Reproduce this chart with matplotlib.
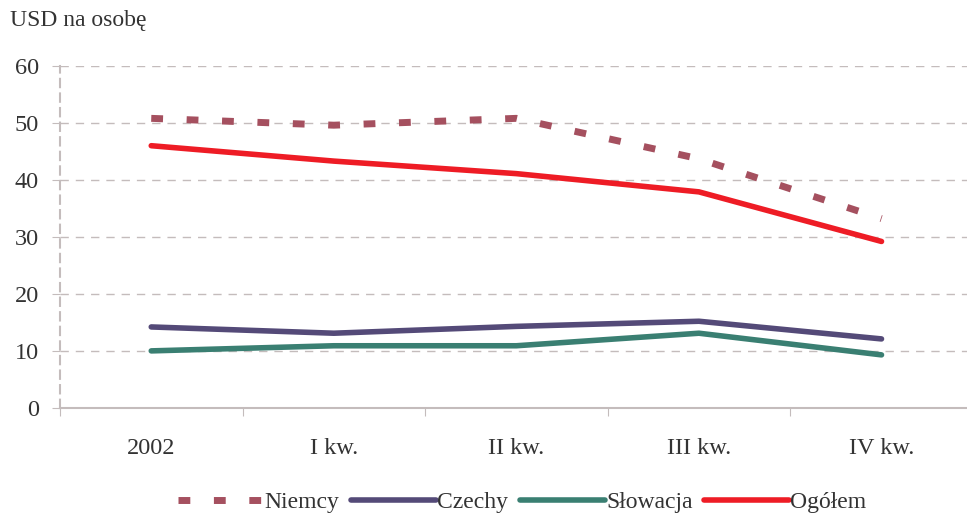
import matplotlib.pyplot as plt

plt.rcParams['font.family'] = ['Liberation Serif', 'DejaVu Serif']

# categories and values
categories = ['2002', 'I kw.', 'II kw.', 'III kw.', 'IV kw.']
niemcy = [50.8, 49.6, 50.8, 43.7, 33.2]
czechy = [14.2, 13.1, 14.3, 15.2, 12.1]
slowacja = [10.0, 10.9, 10.9, 13.1, 9.3]
ogolem = [46.0, 43.3, 41.1, 37.9, 29.2]

text_col = '#333333'
grid_col = '#c4bcbc'

fig = plt.figure(figsize=(9.67, 5.15), dpi=100)
ax = fig.add_axes([0.062, 0.208, 0.944, 0.664])

x = range(len(categories))
ax.plot(x, niemcy, color='#a5505f', lw=5, linestyle=(0, (1.7, 3.4)), solid_capstyle='butt', label='Niemcy')
ax.plot(x, czechy, color='#544a78', lw=4, solid_capstyle='round', label='Czechy')
ax.plot(x, slowacja, color='#3a7f72', lw=4, solid_capstyle='round', label='Słowacja')
ax.plot(x, ogolem, color='#ee1c25', lw=4, solid_capstyle='round', label='Ogółem')

ax.set_ylim(0, 60)
ax.set_xlim(-0.5, len(categories) - 0.5)
ax.set_yticks(range(0, 61, 10))
for v in range(10, 61, 10):
    ax.axhline(v, color=grid_col, lw=1, linestyle=(0, (6, 5)), zorder=0)

# category boundaries as major ticks, labels on minor ticks
ax.set_xticks([i - 0.5 for i in range(len(categories) + 1)])
ax.set_xticklabels([])
ax.set_xticks(list(x), minor=True)
ax.set_xticklabels(categories, minor=True)
ax.tick_params(axis='x', which='major', length=6, color=grid_col, direction='out')
ax.tick_params(axis='x', which='minor', length=0, pad=22, labelsize=17.5, labelcolor=text_col)
ax.tick_params(axis='y', length=6, color=grid_col, pad=9, labelsize=17.5, labelcolor=text_col)

for side in ['top', 'right']:
    ax.spines[side].set_visible(False)
ax.spines['left'].set_color(grid_col)
ax.spines['left'].set_linestyle((0, (4, 3)))
ax.spines['left'].set_linewidth(1.5)
ax.spines['bottom'].set_color(grid_col)
ax.spines['bottom'].set_linewidth(1.5)

fig.text(0.01, 0.96, 'USD na osobę', fontsize=17, color=text_col, va='center')

fig.legend(loc='center', bbox_to_anchor=(0.54, 0.025), ncol=4, frameon=False,
           fontsize=17, handlelength=3.6, handletextpad=0.05, columnspacing=0.5,
           labelcolor=text_col)

fig.savefig('out.png', dpi=100)
